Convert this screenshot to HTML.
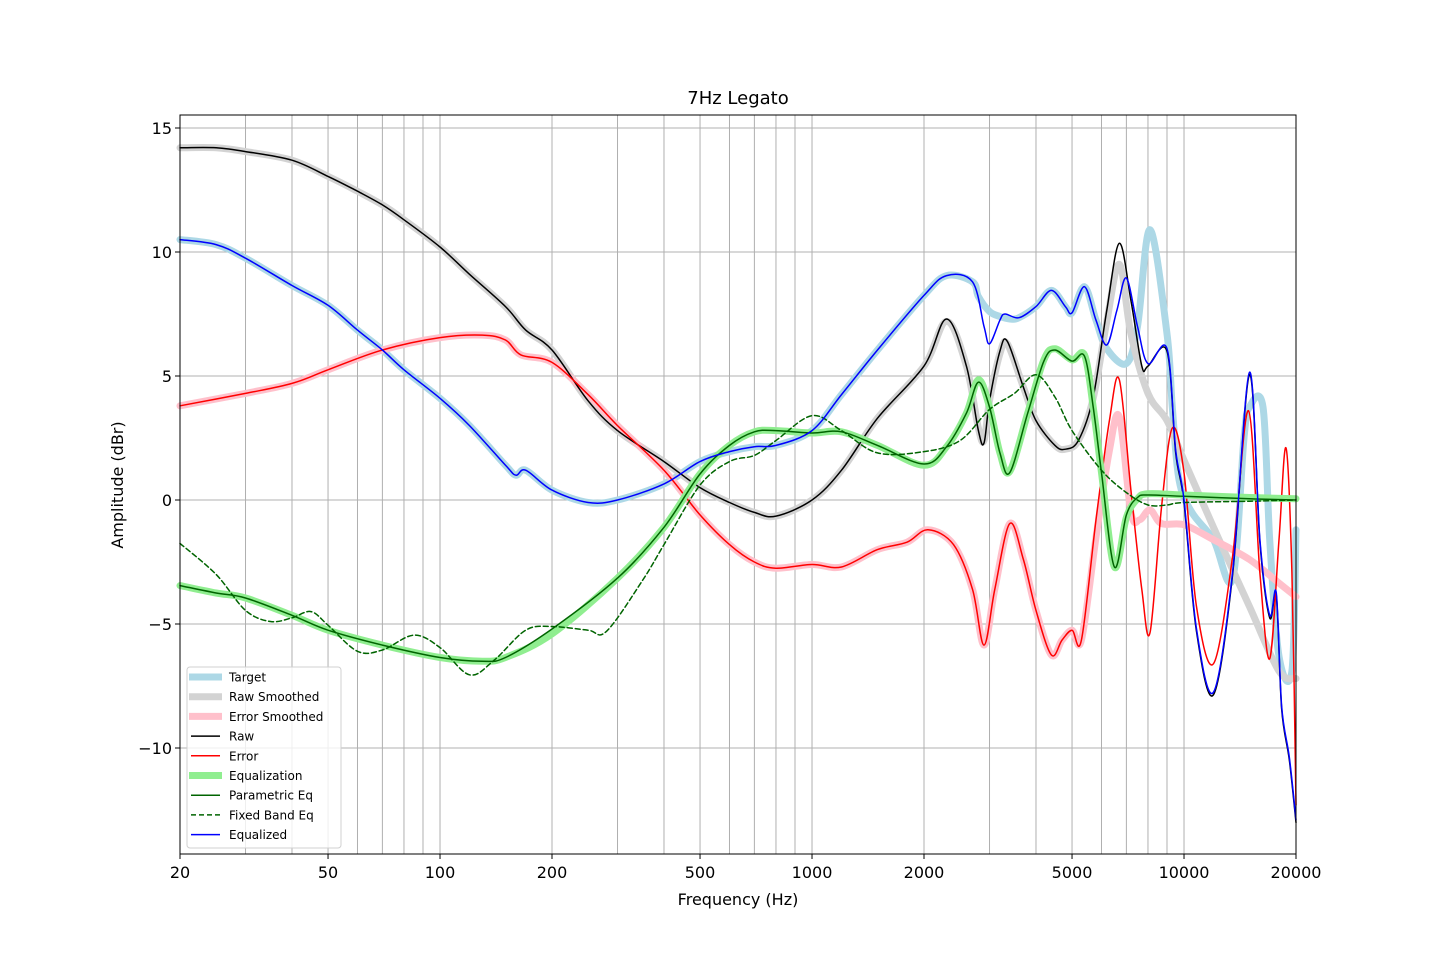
<!DOCTYPE html>
<html><head><meta charset="utf-8"><style>
html,body{margin:0;padding:0;background:#fff;}
svg{display:block;font-family:"DejaVu Sans","Liberation Sans",sans-serif;}
</style></head><body>
<svg id="chart" width="1440" height="960" viewBox="0 0 1440 960" xmlns="http://www.w3.org/2000/svg">
<rect width="1440" height="960" fill="#fff"/>
<g id="grid"></g>
<g id="series"></g>
<rect x="180" y="115" width="1116" height="739" fill="none" stroke="#000" stroke-width="1"/>
<g id="ticks" font-size="16"></g>
<text x="738" y="104" text-anchor="middle" font-size="18">7Hz Legato</text>
<text x="738" y="905" text-anchor="middle" font-size="16">Frequency (Hz)</text>
<text transform="translate(123,485) rotate(-90)" text-anchor="middle" font-size="16">Amplitude (dBr)</text>
<g id="legend"></g>
</svg>
<script>
// ---- data ----
const xTicks = [20,50,100,200,500,1000,2000,5000,10000,20000];
const xTickLabels = ["20","50","100","200","500","1000","2000","5000","10000","20000"];
const yTicks = [-10,-5,0,5,10,15];
const yTickLabels = ["\u221210","\u22125","0","5","10","15"];

const rawF = [20,25,30,40,50,60,70,80,100,120,150,170,200,250,300,400,500,600,700,800,1000,1200,1500,2000,2300,2600,2800,2900,3000,3200,3350,3700,4000,4500,4800,5200,5700,6200,6700,7200,7700,8000,9000,9500,10000,10800,12000,13500,15000,16000,17000,17700,18300,19200,20000];
const rawV = [14.2,14.2,14.05,13.7,13.05,12.45,11.9,11.3,10.2,9.1,7.8,6.85,6.05,4.0,2.8,1.55,0.5,-0.1,-0.5,-0.65,0,1.2,3.3,5.4,7.3,5.4,2.8,2.3,4.0,6.0,6.4,4.55,3.2,2.2,2.05,2.4,4.15,7.65,10.35,8.05,5.4,5.4,6.0,1.9,-0.1,-5.3,-7.85,-3.05,5.05,-1.7,-4.75,-3.85,-8.4,-10.5,-13.0];

const rawSmF = [20,25,30,40,50,60,70,80,100,120,150,170,200,250,300,400,500,600,700,800,1000,1200,1500,2000,2300,2600,2800,2900,3000,3200,3350,3700,4000,4500,4800,5200,5700,6200,6700,7200,8000,9000,10000,12000,15000,18000,20000];
const rawSmV = [14.2,14.2,14.05,13.7,13.05,12.45,11.9,11.3,10.2,9.1,7.8,6.85,6.05,4.0,2.8,1.55,0.5,-0.1,-0.5,-0.65,0,1.2,3.3,5.4,7.2,5.4,2.9,2.4,4.0,5.9,6.3,4.55,3.2,2.2,2.05,2.4,4.1,7.2,9.5,6.7,4.3,3.2,1.6,-1.1,-4.3,-6.9,-7.2];

const eqdF = [20,25,30,40,50,60,70,80,100,120,150,160,170,200,250,300,400,500,600,700,800,1000,1200,1500,2000,2300,2700,2900,3000,3200,3300,3600,4000,4400,4800,5000,5400,5800,6200,6600,7000,7500,8000,9000,9500,10000,10800,12000,13500,15000,16000,17000,17700,18300,19200,20000];
const eqdV = [10.5,10.3,9.75,8.65,7.85,6.85,6.05,5.25,4.1,3.0,1.4,1.0,1.2,0.4,-0.1,0,0.65,1.55,1.95,2.15,2.2,2.8,4.25,6.05,8.25,9.05,8.8,7.0,6.3,7.25,7.5,7.35,7.8,8.45,7.8,7.55,8.6,7.25,6.25,7.65,8.95,7.0,5.5,6.1,2.0,0,-5.2,-7.75,-2.95,5.15,-1.6,-4.65,-3.75,-8.3,-10.4,-12.9];

const targetF = [20,25,30,40,50,60,70,80,100,120,150,160,170,200,250,300,400,500,600,700,800,1000,1200,1500,2000,2300,2700,2800,3000,3200,3400,3600,4000,4400,4800,5000,5400,5800,6200,7000,7500,8100,9000,9300,9700,10500,12000,13500,14500,15000,16300,17000,18000,19500,20000];
const targetV = [10.5,10.3,9.75,8.65,7.85,6.85,6.05,5.25,4.1,3.0,1.4,1.0,1.2,0.4,-0.1,0,0.65,1.55,1.95,2.15,2.2,2.8,4.25,6.05,8.25,9.05,8.8,8.2,7.6,7.4,7.3,7.35,7.8,8.45,7.8,7.55,8.6,7.25,6.1,5.5,7.0,10.9,6.7,3.75,0.8,-0.5,-1.6,-3.2,2.5,3.75,3.75,-1.6,-6.3,-6.9,-1.2];

const errF = [20,30,40,50,70,100,130,150,165,200,250,300,400,500,600,700,800,1000,1200,1500,1800,2050,2400,2700,2900,3100,3400,3700,4000,4400,4700,5000,5300,5800,6300,6700,7200,7700,8100,8700,9300,10000,10800,12000,13500,14900,16000,17000,18000,18800,19500,20000];
const errV = [3.8,4.3,4.7,5.25,6.05,6.55,6.65,6.45,5.85,5.55,4.25,3.0,1.2,-0.6,-1.8,-2.5,-2.75,-2.6,-2.7,-2.0,-1.7,-1.2,-1.8,-3.6,-5.85,-3.6,-0.95,-2.4,-4.45,-6.25,-5.65,-5.25,-5.65,-0.8,3.2,4.85,0.4,-3.6,-5.35,-0.3,2.9,1.1,-4.3,-6.6,-2.3,3.6,-2.95,-6.4,-1.6,2.1,-2.9,-12.3];

const errSmF = [20,30,40,50,70,100,130,150,165,200,250,300,400,500,600,700,800,1000,1200,1500,1800,2050,2400,2700,2900,3100,3400,3700,4000,4400,4700,5000,5300,5800,6300,6700,7200,7600,8100,8700,10000,12000,15000,18000,20000];
const errSmV = [3.8,4.3,4.7,5.25,6.05,6.55,6.65,6.45,5.85,5.55,4.25,3.0,1.2,-0.6,-1.8,-2.5,-2.75,-2.6,-2.7,-2.0,-1.7,-1.2,-1.8,-3.6,-5.85,-3.6,-0.95,-2.4,-4.45,-6.25,-5.65,-5.25,-5.65,-1.5,2.0,3.35,-0.5,-0.8,-0.4,-0.95,-1.0,-1.6,-2.4,-3.35,-3.9];

const eqF = [20,25,30,40,50,70,100,130,150,200,300,400,500,600,700,800,1000,1200,1500,2000,2300,2600,2800,3000,3200,3400,3800,4200,4500,5000,5400,5700,6000,6500,7000,7500,8000,10000,15000,20000];
const eqV = [-3.45,-3.75,-3.95,-4.65,-5.25,-5.85,-6.35,-6.5,-6.35,-5.4,-3.15,-1.1,1.05,2.2,2.75,2.8,2.7,2.75,2.2,1.4,2.15,3.5,4.85,3.75,1.9,1.15,3.5,5.65,6.1,5.65,5.85,3.75,1.1,-2.7,-0.7,0.05,0.25,0.2,0.1,0.05];
const peqV = [-3.45,-3.75,-3.95,-4.65,-5.25,-5.85,-6.35,-6.5,-6.35,-5.2,-3.15,-1.1,1.05,2.2,2.75,2.8,2.7,2.75,2.2,1.45,2.15,3.5,4.75,3.75,1.9,1.1,3.5,5.6,6.05,5.6,5.8,3.75,1.1,-2.7,-0.6,0.1,0.2,0.15,0.05,0.0];

const fbF = [20,25,30,35,40,45,50,60,70,85,100,120,140,170,200,250,280,350,400,500,600,700,800,1000,1200,1500,2000,2500,3000,3500,4000,4500,5000,6000,7000,8000,9000,10000,15000,20000];
const fbV = [-1.75,-3.0,-4.45,-4.9,-4.75,-4.5,-5.05,-6.1,-6.05,-5.45,-5.95,-7.05,-6.45,-5.25,-5.1,-5.25,-5.3,-3.25,-1.8,0.6,1.55,1.8,2.4,3.4,2.8,1.9,1.95,2.4,3.65,4.3,5.05,4.15,2.8,1.2,0.3,-0.2,-0.2,-0.1,-0.05,0];

// ---- axes ----
const X0=180,X1=1296,Y0=115,Y1=854;
function xs(f){return X0+(X1-X0)*Math.log10(f/20)/3;}
function ys(v){return 500-v*24.8;}
const NS='http://www.w3.org/2000/svg';
function mk(tag,attrs,parent){const e=document.createElementNS(NS,tag);for(const k in attrs)e.setAttribute(k,attrs[k]);parent.appendChild(e);return e;}

const grid=document.getElementById('grid');
for(let d=10;d<=10000;d*=10){for(let m=1;m<10;m++){const f=d*m;if(f<20||f>20000)continue;
 const l=mk('line',{x1:xs(f),x2:xs(f),y1:Y0,y2:Y1,stroke:'#b0b0b0','stroke-width':1},grid);
 
 }}
yTicks.forEach(v=>{const l=mk('line',{x1:X0,x2:X1,y1:ys(v),y2:ys(v),stroke:'#b0b0b0','stroke-width':1},grid);
 
 });

const ticks=document.getElementById('ticks');
xTicks.forEach((f,i)=>{const x=xs(f);
 mk('line',{x1:x,x2:x,y1:Y1,y2:Y1+5,stroke:'#000'},ticks);
 const t=mk('text',{x:x,y:Y1+24,'text-anchor':'middle'},ticks);t.textContent=xTickLabels[i];
 
 });
yTicks.forEach((v,i)=>{const y=ys(v);
 mk('line',{x1:X0-5,x2:X0,y1:y,y2:y,stroke:'#000'},ticks);
 const t=mk('text',{x:X0-8,y:y+6,'text-anchor':'end'},ticks);t.textContent=yTickLabels[i];
 
 });

function pathFor(F,V){const p=F.map((f,i)=>[xs(f),ys(V[i])]);
 let d='M'+p[0][0].toFixed(1)+','+p[0][1].toFixed(1);
 for(let i=0;i<p.length-1;i++){const p0=p[Math.max(0,i-1)],p1=p[i],p2=p[i+1],p3=p[Math.min(p.length-1,i+2)];
  const c1=[p1[0]+(p2[0]-p0[0])/6,p1[1]+(p2[1]-p0[1])/6];
  const c2=[p2[0]-(p3[0]-p1[0])/6,p2[1]-(p3[1]-p1[1])/6];
  d+=' C'+c1.map(n=>n.toFixed(1))+' '+c2.map(n=>n.toFixed(1))+' '+p2.map(n=>n.toFixed(1));}
 return d;}
const series=document.getElementById('series');
function draw(name,F,V,color,w,dash){const a={d:pathFor(F,V),fill:'none',stroke:color,'stroke-width':w,'stroke-linejoin':'round','stroke-linecap':'round'};
 if(dash)a['stroke-dasharray']=dash;const e=mk('path',a,series);
 
 }
draw('target-line',targetF,targetV,'#add8e6',7);
draw('raw-smoothed-line',rawSmF,rawSmV,'#d3d3d3',7);
draw('error-smoothed-line',errSmF,errSmV,'#ffc0cb',7);
draw('raw-line',rawF,rawV,'#000',1.5);
draw('error-line',errF,errV,'#ff0000',1.5);
draw('equalization-line',eqF,eqV,'#90ee90',7);
draw('parametric-eq-line',eqF,peqV,'#006400',1.5);
draw('fixed-band-eq-line',fbF,fbV,'#006400',1.5,'5,3');
draw('equalized-line',eqdF,eqdV,'#0000ff',1.5);

// ---- legend ----
const leg=document.getElementById('legend');
const lb=mk('rect',{x:187,y:667,width:154,height:181,rx:3,fill:'#fff','fill-opacity':0.8,stroke:'#d0d0d0'},leg);


const legItems=[['Target','#add8e6',7],['Raw Smoothed','#d3d3d3',7],['Error Smoothed','#ffc0cb',7],['Raw','#000',1.5],['Error','#ff0000',1.5],['Equalization','#90ee90',7],['Parametric Eq','#006400',1.5],['Fixed Band Eq','#006400',1.5,'5,3'],['Equalized','#0000ff',1.5]];
legItems.forEach((it,i)=>{const y=677+i*19.7;const g=mk('g',{},leg);
 
 
 const a={x1:it[2]>3?189:191,x2:it[2]>3?222:220,y1:y,y2:y,stroke:it[1],'stroke-width':it[2]};if(it[3])a['stroke-dasharray']=it[3];
 mk('line',a,g);
 const t=mk('text',{x:229,y:y+4.5,'font-size':12},g);t.textContent=it[0];});
</script>
</body></html>
